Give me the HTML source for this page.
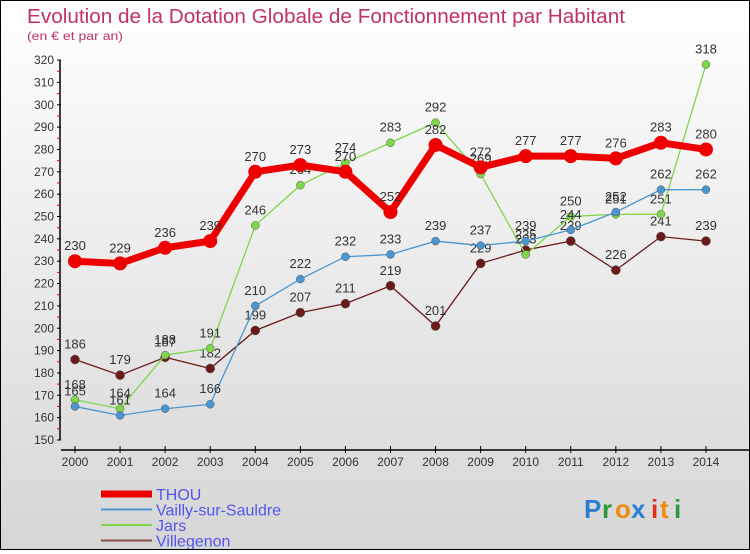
<!DOCTYPE html>
<html><head><meta charset="utf-8"><style>
html,body{margin:0;padding:0}
body{width:750px;height:550px;overflow:hidden;font-family:"Liberation Sans","DejaVu Sans",sans-serif}
#wrap{position:absolute;left:0;top:0;width:748px;height:548px;border:1px solid #000;background:linear-gradient(#ffffff,#d6d6d6)}
</style></head><body>
<div id="wrap">
<svg id="chart" width="748" height="548">
<text x="26" y="22" font-size="20" fill="#c2325e" textLength="598" lengthAdjust="spacingAndGlyphs">Evolution de la Dotation Globale de Fonctionnement par Habitant</text>
<text x="26" y="39" font-size="12" fill="#c2325e" textLength="96" lengthAdjust="spacingAndGlyphs">(en € et par an)</text>
<g id="axes"></g><g id="series"></g><g id="legend"></g>
<g font-size="26" font-weight="bold">
<text x="583" y="517" fill="#2a7fd0">P</text><text x="601" y="517" fill="#2e9a3a">r</text><text x="614" y="517" fill="#f08a10">o</text><text x="630" y="517" fill="#2a7fd0">x</text><text x="650" y="517" fill="#e0301a">i</text><text x="659" y="517" fill="#f08a10">t</text><text x="673" y="517" fill="#2e9a3a">i</text>
</g>
</svg></div>
<script>
const years=[2000,2001,2002,2003,2004,2005,2006,2007,2008,2009,2010,2011,2012,2013,2014];
const thou=[230,229,236,239,270,273,270,252,282,272,277,277,276,283,280];
const vailly=[165,161,164,166,210,222,232,233,239,237,239,244,252,262,262];
const jars=[168,164,188,191,246,264,274,283,292,269,233,250,251,251,318];
const villegenon=[186,179,187,182,199,207,211,219,201,229,235,239,226,241,239];
const yTicks=[150,160,170,180,190,200,210,220,230,240,250,260,270,280,290,300,310,320];
const NS="http://www.w3.org/2000/svg";
const xs=i=>74+i*45.07, ys=v=>439-(v-150)*2.235;
function mk(tag,attrs,parent){const e=document.createElementNS(NS,tag);for(const k in attrs)e.setAttribute(k,attrs[k]);parent.appendChild(e);return e;}
const ax=document.getElementById('axes');
let yl=mk('line',{x1:59,y1:ys(320),x2:59,y2:ys(150),stroke:'#000','stroke-width':1.5},ax);


yTicks.forEach(v=>{
 mk('line',{x1:56,x2:60,y1:ys(v),y2:ys(v),stroke:'#000'},ax);
 if(v<320)mk('line',{x1:56,x2:59,y1:ys(v+5),y2:ys(v+5),stroke:'#e00'},ax);
 const t=mk('text',{x:53,y:ys(v)+4,'font-size':12,'text-anchor':'end',fill:'#333'},ax);t.textContent=v;
 
 
});
let xl=mk('line',{x1:60,y1:449,x2:748,y2:449,stroke:'#000','stroke-width':1.5},ax);


years.forEach((y,i)=>{
 mk('line',{x1:xs(i),x2:xs(i),y1:445,y2:452,stroke:'#000'},ax);
 const t=mk('text',{x:xs(i),y:465,'font-size':12,'text-anchor':'middle',fill:'#333'},ax);t.textContent=y;
 
 
});
const sg=document.getElementById('series');
const defs=[[villegenon,'#6b1a1a',1.3,4.5,'villegenon'],[jars,'#7fd64a',1.3,4,'jars'],[vailly,'#4a96d0',1.3,4,'vailly-sur-sauldre'],[thou,'#ee0000',7,7,'thou']];
defs.forEach(([d,c,w,r,n])=>{
 const g=mk('g',{},sg);
 
 
 mk('polyline',{points:d.map((v,i)=>xs(i)+','+ys(v)).join(' '),fill:'none',stroke:c,'stroke-width':w},g);
 d.forEach((v,i)=>{
  const p=mk('circle',{cx:xs(i),cy:ys(v),r:r,fill:c,stroke:n=='thou'?'none':'#555','stroke-width':0.5},g);
  
  
  const t=mk('text',{x:xs(i),y:ys(v)-11,'font-size':13,'text-anchor':'middle',fill:'#333'},g);t.textContent=v;
 });
});
const lg=document.getElementById('legend');
[['THOU','#ee0000',7],['Vailly-sur-Sauldre','#4a96d0',2],['Jars','#7fd64a',2],['Villegenon','#8a5050',2]].forEach(([l,c,w],i)=>{
 const y=493+i*15.5;
 const g=mk('g',{},lg);
 
 
 mk('line',{x1:100,x2:151,y1:y,y2:y,stroke:c,'stroke-width':w},g);
 const t=mk('text',{x:155,y:y+6,'font-size':16,fill:'#5555ee'},g);t.textContent=l;
});
</script>
</body></html>
